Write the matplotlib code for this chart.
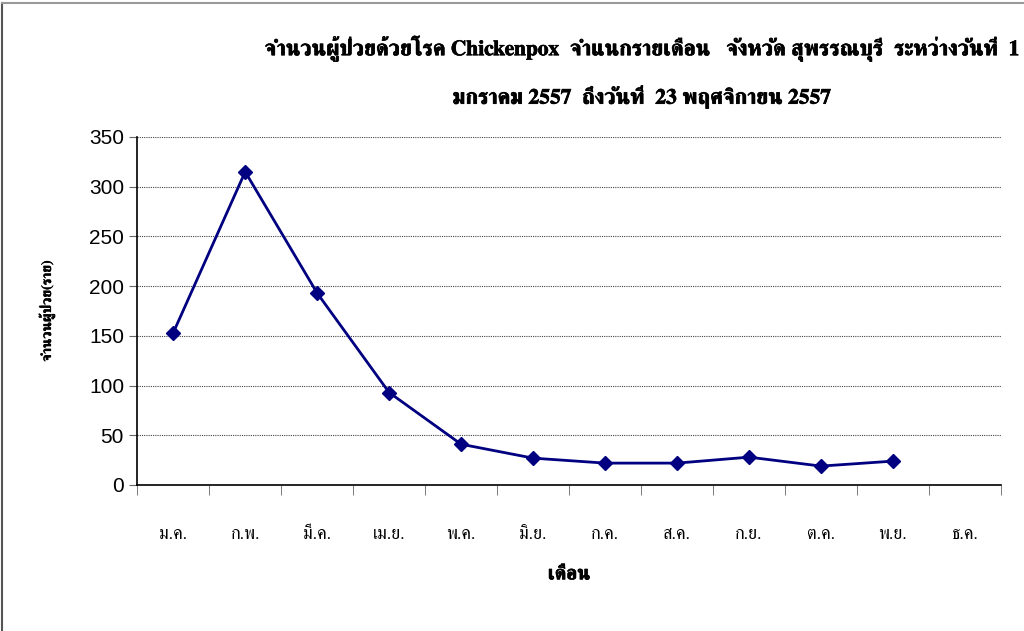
import matplotlib
matplotlib.use("Agg")
import matplotlib.pyplot as plt
from matplotlib import font_manager
from matplotlib.ft2font import FT2Font
from matplotlib.lines import Line2D
import matplotlib.patheffects as pe

# หาฟอนต์ที่มีอักษรไทย (ชอบแบบ serif ก่อน)
thai_fonts = []
for f in font_manager.fontManager.ttflist:
    try:
        if 0x0E01 in FT2Font(f.fname).get_charmap():
            thai_fonts.append(f.name)
    except Exception:
        pass
thai_fonts = sorted(set(thai_fonts), key=lambda n: (0 if "Serif" in n else 1, n))

serif_fam = thai_fonts[:1] + ["Liberation Serif", "DejaVu Serif"]
sans_fam = ["Liberation Sans"] + thai_fonts[:1] + ["DejaVu Sans"]
fake_bold = [pe.withStroke(linewidth=0.5, foreground="black")]

months = ["ม.ค.", "ก.พ.", "มี.ค.", "เม.ย.", "พ.ค.", "มิ.ย.",
          "ก.ค.", "ส.ค.", "ก.ย.", "ต.ค.", "พ.ย.", "ธ.ค."]
cases = [153, 315, 193, 93, 41, 27, 22, 22, 28, 19, 24]

title = ("จำนวนผู้ป่วยด้วยโรค Chickenpox  จำแนกรายเดือน   จังหวัด สุพรรณบุรี  ระหว่างวันที่  1\n"
         "มกราคม 2557  ถึงวันที่  23 พฤศจิกายน 2557")

fig = plt.figure(figsize=(10.24, 6.31), dpi=100)
ax = fig.add_axes([0.134, 0.2314, 0.8435, 0.5515])

x = list(range(len(cases)))
ax.plot(x, cases, color="#000080", lw=2, marker="D", ms=7)

ax.set_xlim(-0.5, 11.5)
ax.set_ylim(0, 350)
ax.set_yticks(range(0, 351, 50))
ax.set_xticks(range(len(months)))
ax.set_xticklabels(months, family=serif_fam, fontsize=13)
ax.set_xticks([i - 0.5 for i in range(13)], minor=True)
ax.tick_params(axis="x", which="major", length=0, pad=30)
ax.tick_params(axis="x", which="minor", length=7, color="#666666")
ax.tick_params(axis="y", length=6, color="#666666", labelsize=15)
for lab in ax.get_yticklabels():
    lab.set_family(sans_fam)

ax.grid(axis="y", ls=(0, (1, 1)), color="#444444", lw=0.8)
ax.set_axisbelow(True)
for s in ["top", "right"]:
    ax.spines[s].set_visible(False)
ax.spines["left"].set_linewidth(1.2)
ax.spines["bottom"].set_linewidth(1.2)

xl = ax.set_xlabel("เดือน", family=serif_fam, fontsize=14, fontweight="bold", labelpad=17)
xl.set_path_effects(fake_bold)
yl = ax.set_ylabel("จำนวนผู้ป่วย(ราย)", family=serif_fam, fontsize=10, fontweight="bold", labelpad=24)
yl.set_path_effects([pe.withStroke(linewidth=0.3, foreground="black")])

t = fig.text(0.626, 0.886, title, ha="center", va="center", family=serif_fam,
             fontsize=15.5, fontweight="bold", linespacing=2.2)
t.set_path_effects(fake_bold)

# กรอบของแผนภูมิ
fig.add_artist(Line2D([0.002, 0.002], [0, 0.995], color="#555555", lw=1.5))
fig.add_artist(Line2D([0.002, 1], [0.995, 0.995], color="#999999", lw=1.5))

fig.savefig("out.png", dpi=100)
